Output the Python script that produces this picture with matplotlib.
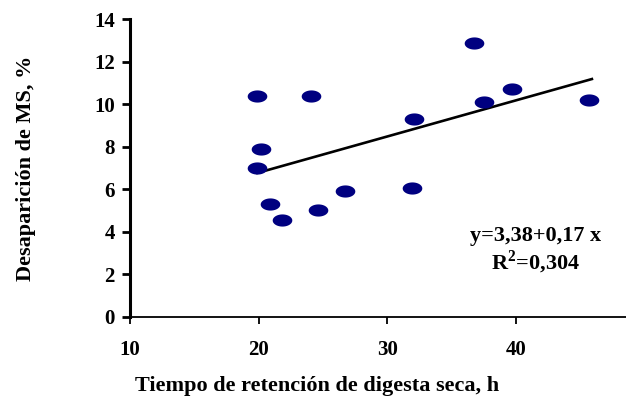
import numpy as np
import matplotlib
matplotlib.use('agg')
import matplotlib.pyplot as plt
from matplotlib.path import Path

# data
tiempo = [19.9, 20.2, 19.9, 20.9, 21.8, 24.1, 24.6, 26.7, 32.1, 31.9, 36.7, 37.5, 39.7, 45.7]
desap = [10.4, 7.9, 7.0, 5.3, 4.55, 10.4, 5.0, 5.9, 9.3, 6.05, 12.9, 10.1, 10.7, 10.2]
intercept = 3.38
slope = 0.17
x_ticks = [10, 20, 30, 40]
y_ticks = [0, 2, 4, 6, 8, 10, 12, 14]

serif = ['Liberation Serif', 'DejaVu Serif']
plt.rcParams['mathtext.fontset'] = 'custom'
plt.rcParams['mathtext.rm'] = 'Liberation Serif:bold'
plt.rcParams['mathtext.bf'] = 'Liberation Serif:bold'

# flattened ellipse marker
t = np.linspace(0, 2 * np.pi, 40)
ell = Path(np.column_stack([np.cos(t), 0.62 * np.sin(t)]), closed=True)

fig = plt.figure(figsize=(6.26, 4.0), dpi=100)
ax = fig.add_axes([0.2077, 0.2085, 0.7923, 0.7435])

ax.scatter(tiempo, desap, marker=ell, s=200, color='#000080', zorder=3, linewidths=0)
xl = np.array([min(tiempo), max(tiempo) + 0.2])
ax.plot(xl, intercept + slope * xl, color='black', lw=1.9, zorder=2)

ax.set_xlim(10, 48.55)
ax.set_ylim(0, 14)
ax.set_xticks(x_ticks)
ax.set_yticks(y_ticks)
ax.spines['top'].set_visible(False)
ax.spines['right'].set_visible(False)
ax.spines['left'].set_linewidth(2.2)
ax.spines['bottom'].set_linewidth(1.3)
ax.tick_params(axis='y', direction='out', length=6, width=2, pad=5)
ax.tick_params(axis='x', direction='out', length=5, width=1.3, pad=12)
for lab in ax.get_xticklabels() + ax.get_yticklabels():
    lab.set_family(serif)
    lab.set_fontweight('bold')
    lab.set_fontsize(15)

ax.set_xlabel('Tiempo de retención de digesta seca, h', family=serif,
              fontweight='bold', fontsize=16, labelpad=14)
ax.xaxis.set_label_coords(0.377, -0.2)
ax.set_ylabel('Desaparición de MS, %', family=serif, fontweight='bold',
              fontsize=16)
ax.yaxis.set_label_coords(-0.19, 0.5)

ax.text(41.5, 3.8, 'y=3,38+0,17 x', family=serif, fontweight='bold',
        fontsize=16, ha='center', va='center')
ax.text(41.5, 2.55, 'R$^{2}$=0,304', family=serif, fontweight='bold',
        fontsize=16, ha='center', va='center')

fig.savefig('out.png', dpi=100)
